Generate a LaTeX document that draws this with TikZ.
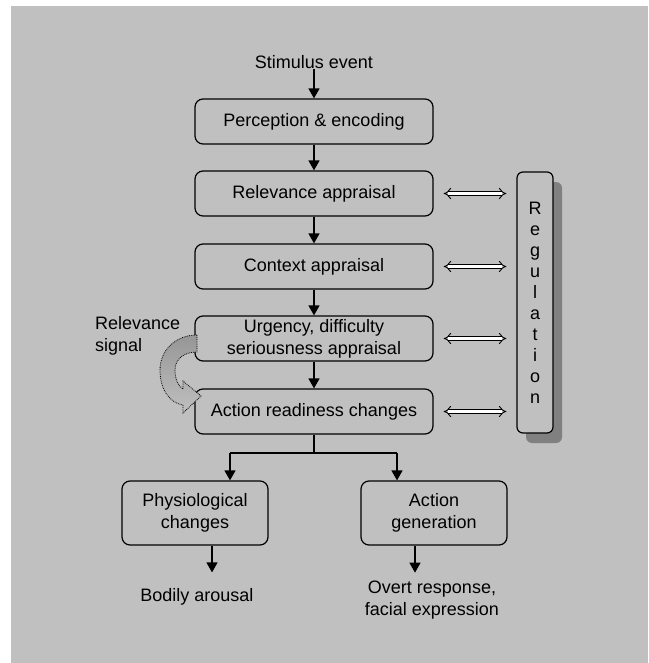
\documentclass[tikz,border=0pt]{standalone}
\usepackage{fontspec}
\setmainfont{Liberation Sans}
\usetikzlibrary{arrows.meta,calc}
\definecolor{panel}{RGB}{192,192,192}
\definecolor{dropgray}{RGB}{128,128,128}
\definecolor{signalgray}{RGB}{150,150,150}
\begin{document}
\begin{tikzpicture}[x=1pt,y=-1pt,
  font=\fontsize{18}{22}\selectfont,
  stage/.style={draw, line width=1.2pt, rounded corners=8pt, minimum width=238pt,
    minimum height=45pt, align=center, inner sep=0pt},
  outcome/.style={draw, line width=1.2pt, rounded corners=8pt, minimum width=146pt,
    minimum height=64pt, align=center, inner sep=0pt},
  plaintext/.style={align=center, inner sep=0pt},
  flow/.style={line width=1.3pt, -{Triangle[length=10pt,width=11pt]}},
  rail/.style={line width=1.3pt},
  twoway/.style={double=white, double distance=3pt, line width=0.9pt,
    {Implies}-{Implies}, shorten <=10pt, shorten >=10pt},
]
\useasboundingbox (0,0) rectangle (648,663);
\fill[panel] (11,6) rectangle (648,663);

% appraisal stages
\node[plaintext] (stim) at (314,62) {Stimulus event};
\node[stage] (perc) at (314,121.5) {Perception \& encoding};
\node[stage] (rel)  at (314,193.5) {Relevance appraisal};
\node[stage] (ctx)  at (314,266.5) {Context appraisal};
\node[stage] (urg)  at (314,338.5) {Urgency, difficulty\\seriousness appraisal};
\node[stage] (act)  at (314,411.5) {Action readiness changes};

% regulation column with drop shadow
\fill[dropgray, rounded corners=6pt] (526,182) rectangle (562,443);
\node[draw, fill=panel, line width=1.2pt, rounded corners=6pt, minimum width=36pt,
  minimum height=261pt, inner sep=0pt, align=center,
  font=\fontsize{18}{21}\selectfont] (reg) at (535,302.5)
  {R\\e\\g\\u\\l\\a\\t\\i\\o\\n};

% main flow
\draw[flow] (stim.south) -- (perc.north);
\draw[flow] (perc) -- (rel);
\draw[flow] (rel) -- (ctx);
\draw[flow] (ctx) -- (urg);
\draw[flow] (urg) -- (act);

% links to regulation
\draw[twoway] (rel.east) -- (rel.east -| reg.west);
\draw[twoway] (ctx.east) -- (ctx.east -| reg.west);
\draw[twoway] (urg.east) -- (urg.east -| reg.west);
\draw[twoway] (act.east) -- (act.east -| reg.west);

% relevance signal feedback arrow
\node[plaintext, align=left, anchor=west] (sig) at (95,336) {Relevance\\signal};
\path[draw, densely dotted, line width=0.8pt, top color=signalgray, middle color=panel,
  bottom color=panel]
  (197,335) .. controls (176,335) and (160,350) .. (160,370)
  .. controls (160,390) and (170,403) .. (183,405)
  -- (183,413) -- (201,396) -- (183,381) -- (183,389)
  .. controls (178,386) and (175,379) .. (175,370)
  .. controls (175,359) and (184,352) .. (197,352) -- cycle;

% branching to outputs
\node[outcome] (phys) at (195,513) {Physiological\\changes};
\node[outcome] (gen)  at (434,513) {Action\\generation};
\coordinate (split) at (314,453);
\coordinate (bl) at (230,453);
\coordinate (br) at (397,453);
\draw[rail] (act.south) -- (split);
\draw[rail] (bl) -- (br);
\draw[flow] (bl) -- (bl |- phys.north);
\draw[flow] (br) -- (br |- gen.north);

\node[plaintext] (bod)  at (197,597) {Bodily arousal};
\node[plaintext] (resp) at (432,600) {Overt response,\\facial expression};
\draw[flow, shorten >=16pt] ([xshift=17pt]phys.south) -- ([xshift=15pt]bod.north);
\draw[flow, shorten >=8pt] ([xshift=-19pt]gen.south) -- ([xshift=-17pt]resp.north);
\end{tikzpicture}
\end{document}
